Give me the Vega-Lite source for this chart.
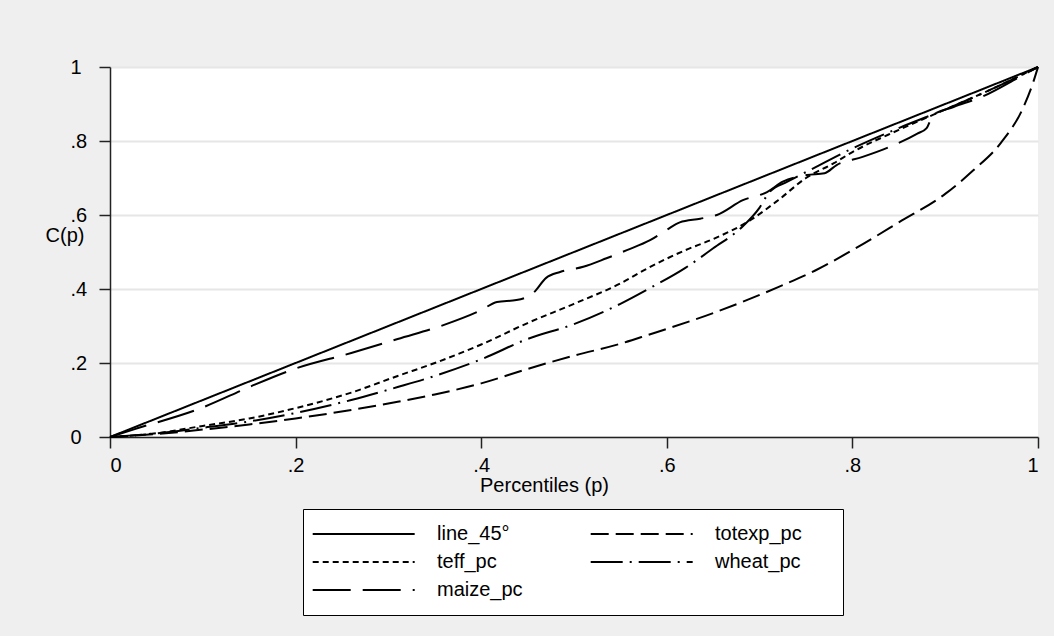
{
  "$schema": "https://vega.github.io/schema/vega-lite/v6.json",
  "width": 928,
  "height": 370,
  "autosize": {"type": "none"},
  "padding": {"left": 110, "top": 67, "right": 16, "bottom": 199},
  "background": "#efefef",
  "config": {
    "font": "Liberation Sans",
    "view": {"fill": "white", "stroke": null},
    "axis": {
      "domainColor": "#222222",
      "domainWidth": 1.5,
      "tickColor": "#222222",
      "tickWidth": 1.5,
      "tickSize": 11,
      "labelFontSize": 20,
      "labelColor": "black",
      "titleFontSize": 20,
      "titleFontWeight": "normal",
      "titleColor": "black",
      "gridColor": "#e6e6e6",
      "gridWidth": 2
    }
  },
  "data": {
    "values": [
      {"series": "line_45°", "p": 0, "C": 0},
      {"series": "line_45°", "p": 1, "C": 1},

      {"series": "totexp_pc", "p": 0, "C": 0},
      {"series": "totexp_pc", "p": 0.05, "C": 0.008},
      {"series": "totexp_pc", "p": 0.1, "C": 0.02},
      {"series": "totexp_pc", "p": 0.15, "C": 0.034},
      {"series": "totexp_pc", "p": 0.2, "C": 0.05},
      {"series": "totexp_pc", "p": 0.26, "C": 0.073},
      {"series": "totexp_pc", "p": 0.31, "C": 0.095},
      {"series": "totexp_pc", "p": 0.35, "C": 0.115},
      {"series": "totexp_pc", "p": 0.4, "C": 0.145},
      {"series": "totexp_pc", "p": 0.45, "C": 0.184},
      {"series": "totexp_pc", "p": 0.5, "C": 0.22},
      {"series": "totexp_pc", "p": 0.55, "C": 0.252},
      {"series": "totexp_pc", "p": 0.58, "C": 0.276},
      {"series": "totexp_pc", "p": 0.65, "C": 0.335},
      {"series": "totexp_pc", "p": 0.72, "C": 0.405},
      {"series": "totexp_pc", "p": 0.76, "C": 0.45},
      {"series": "totexp_pc", "p": 0.8, "C": 0.505},
      {"series": "totexp_pc", "p": 0.85, "C": 0.58},
      {"series": "totexp_pc", "p": 0.9, "C": 0.657},
      {"series": "totexp_pc", "p": 0.93, "C": 0.72},
      {"series": "totexp_pc", "p": 0.96, "C": 0.795},
      {"series": "totexp_pc", "p": 0.984, "C": 0.89},
      {"series": "totexp_pc", "p": 0.995, "C": 0.96},
      {"series": "totexp_pc", "p": 1, "C": 1},

      {"series": "teff_pc", "p": 0, "C": 0},
      {"series": "teff_pc", "p": 0.05, "C": 0.01},
      {"series": "teff_pc", "p": 0.1, "C": 0.03},
      {"series": "teff_pc", "p": 0.15, "C": 0.05},
      {"series": "teff_pc", "p": 0.2, "C": 0.078},
      {"series": "teff_pc", "p": 0.26, "C": 0.12},
      {"series": "teff_pc", "p": 0.31, "C": 0.165},
      {"series": "teff_pc", "p": 0.35, "C": 0.2},
      {"series": "teff_pc", "p": 0.4, "C": 0.25},
      {"series": "teff_pc", "p": 0.45, "C": 0.308},
      {"series": "teff_pc", "p": 0.5, "C": 0.36},
      {"series": "teff_pc", "p": 0.55, "C": 0.415},
      {"series": "teff_pc", "p": 0.58, "C": 0.457},
      {"series": "teff_pc", "p": 0.62, "C": 0.505},
      {"series": "teff_pc", "p": 0.65, "C": 0.535},
      {"series": "teff_pc", "p": 0.69, "C": 0.586},
      {"series": "teff_pc", "p": 0.72, "C": 0.64},
      {"series": "teff_pc", "p": 0.75, "C": 0.7},
      {"series": "teff_pc", "p": 0.78, "C": 0.74},
      {"series": "teff_pc", "p": 0.8, "C": 0.77},
      {"series": "teff_pc", "p": 0.85, "C": 0.83},
      {"series": "teff_pc", "p": 0.9, "C": 0.885},
      {"series": "teff_pc", "p": 0.95, "C": 0.94},
      {"series": "teff_pc", "p": 1, "C": 1},

      {"series": "wheat_pc", "p": 0, "C": 0},
      {"series": "wheat_pc", "p": 0.05, "C": 0.01},
      {"series": "wheat_pc", "p": 0.1, "C": 0.025},
      {"series": "wheat_pc", "p": 0.15, "C": 0.042},
      {"series": "wheat_pc", "p": 0.2, "C": 0.065},
      {"series": "wheat_pc", "p": 0.26, "C": 0.1},
      {"series": "wheat_pc", "p": 0.31, "C": 0.135},
      {"series": "wheat_pc", "p": 0.35, "C": 0.165},
      {"series": "wheat_pc", "p": 0.4, "C": 0.21},
      {"series": "wheat_pc", "p": 0.45, "C": 0.265},
      {"series": "wheat_pc", "p": 0.5, "C": 0.305},
      {"series": "wheat_pc", "p": 0.55, "C": 0.36},
      {"series": "wheat_pc", "p": 0.58, "C": 0.4},
      {"series": "wheat_pc", "p": 0.62, "C": 0.457},
      {"series": "wheat_pc", "p": 0.65, "C": 0.51},
      {"series": "wheat_pc", "p": 0.68, "C": 0.565},
      {"series": "wheat_pc", "p": 0.7, "C": 0.62},
      {"series": "wheat_pc", "p": 0.71, "C": 0.66},
      {"series": "wheat_pc", "p": 0.73, "C": 0.69},
      {"series": "wheat_pc", "p": 0.75, "C": 0.716},
      {"series": "wheat_pc", "p": 0.8, "C": 0.78},
      {"series": "wheat_pc", "p": 0.85, "C": 0.835},
      {"series": "wheat_pc", "p": 0.9, "C": 0.885},
      {"series": "wheat_pc", "p": 0.95, "C": 0.94},
      {"series": "wheat_pc", "p": 1, "C": 1},

      {"series": "maize_pc", "p": 0, "C": 0},
      {"series": "maize_pc", "p": 0.025, "C": 0.02},
      {"series": "maize_pc", "p": 0.1, "C": 0.08},
      {"series": "maize_pc", "p": 0.15, "C": 0.135},
      {"series": "maize_pc", "p": 0.19, "C": 0.176},
      {"series": "maize_pc", "p": 0.2, "C": 0.185},
      {"series": "maize_pc", "p": 0.26, "C": 0.227},
      {"series": "maize_pc", "p": 0.31, "C": 0.265},
      {"series": "maize_pc", "p": 0.36, "C": 0.303},
      {"series": "maize_pc", "p": 0.4, "C": 0.343},
      {"series": "maize_pc", "p": 0.417, "C": 0.365},
      {"series": "maize_pc", "p": 0.438, "C": 0.37},
      {"series": "maize_pc", "p": 0.456, "C": 0.389},
      {"series": "maize_pc", "p": 0.47, "C": 0.43},
      {"series": "maize_pc", "p": 0.485, "C": 0.446},
      {"series": "maize_pc", "p": 0.51, "C": 0.46},
      {"series": "maize_pc", "p": 0.535, "C": 0.483},
      {"series": "maize_pc", "p": 0.557, "C": 0.505},
      {"series": "maize_pc", "p": 0.582, "C": 0.532},
      {"series": "maize_pc", "p": 0.6, "C": 0.56},
      {"series": "maize_pc", "p": 0.614, "C": 0.58},
      {"series": "maize_pc", "p": 0.636, "C": 0.59},
      {"series": "maize_pc", "p": 0.654, "C": 0.6},
      {"series": "maize_pc", "p": 0.682, "C": 0.64},
      {"series": "maize_pc", "p": 0.708, "C": 0.662},
      {"series": "maize_pc", "p": 0.725, "C": 0.69},
      {"series": "maize_pc", "p": 0.751, "C": 0.708},
      {"series": "maize_pc", "p": 0.77, "C": 0.713},
      {"series": "maize_pc", "p": 0.783, "C": 0.735},
      {"series": "maize_pc", "p": 0.811, "C": 0.757},
      {"series": "maize_pc", "p": 0.84, "C": 0.784},
      {"series": "maize_pc", "p": 0.87, "C": 0.82},
      {"series": "maize_pc", "p": 0.88, "C": 0.835},
      {"series": "maize_pc", "p": 0.887, "C": 0.87},
      {"series": "maize_pc", "p": 0.909, "C": 0.892},
      {"series": "maize_pc", "p": 0.94, "C": 0.92},
      {"series": "maize_pc", "p": 0.98, "C": 0.973},
      {"series": "maize_pc", "p": 1, "C": 1}
    ]
  },
  "mark": {"type": "line", "color": "black", "strokeWidth": 2, "interpolate": "monotone"},
  "encoding": {
    "x": {
      "field": "p",
      "type": "quantitative",
      "scale": {"domain": [0, 1], "nice": false},
      "axis": {
        "title": "Percentiles (p)",
        "titleX": 434,
        "titleAlign": "center",
        "values": [0, 0.2, 0.4, 0.6, 0.8, 1],
        "grid": false,
        "labelPadding": 7,
        "titlePadding": 0,
        "labelExpr": "datum.value == 0 ? '0' : datum.value == 1 ? '1' : replace(format(datum.value, '.1f'), '0.', '.')"
      }
    },
    "y": {
      "field": "C",
      "type": "quantitative",
      "scale": {"domain": [0, 1], "nice": false},
      "axis": {
        "title": "C(p)",
        "titleAngle": 0,
        "titleAlign": "right",
        "titleBaseline": "middle",
        "titleX": -26,
        "titleY": 168,
        "values": [0, 0.2, 0.4, 0.6, 0.8, 1],
        "grid": true,
        "labelAlign": "left",
        "labelPadding": 29,
        "labelBaseline": "middle",
        "labelExpr": "datum.value == 0 ? '0' : datum.value == 1 ? '1' : replace(format(datum.value, '.1f'), '0.', '.')"
      }
    },
    "strokeDash": {
      "field": "series",
      "type": "nominal",
      "scale": {
        "domain": ["line_45°", "teff_pc", "maize_pc", "totexp_pc", "wheat_pc"],
        "range": [[1, 0], [6, 4], [38, 12], [18, 7], [32, 7, 2, 7]]
      },
      "legend": {
        "title": "\u00a0",
        "titleOrient": "right",
        "titleFontSize": 20,
        "titlePadding": 26,
        "orient": "none",
        "legendX": 193,
        "legendY": 442,
        "columns": 2,
        "symbolType": "M-3,0H17",
        "symbolSize": 104,
        "symbolStrokeWidth": 2,
        "symbolStrokeColor": "black",
        "labelFontSize": 20,
        "labelColor": "black",
        "labelOffset": 99,
        "columnPadding": 63,
        "rowPadding": 8,
        "padding": 15,
        "strokeColor": "black",
        "fillColor": "white"
      }
    }
  }
}
